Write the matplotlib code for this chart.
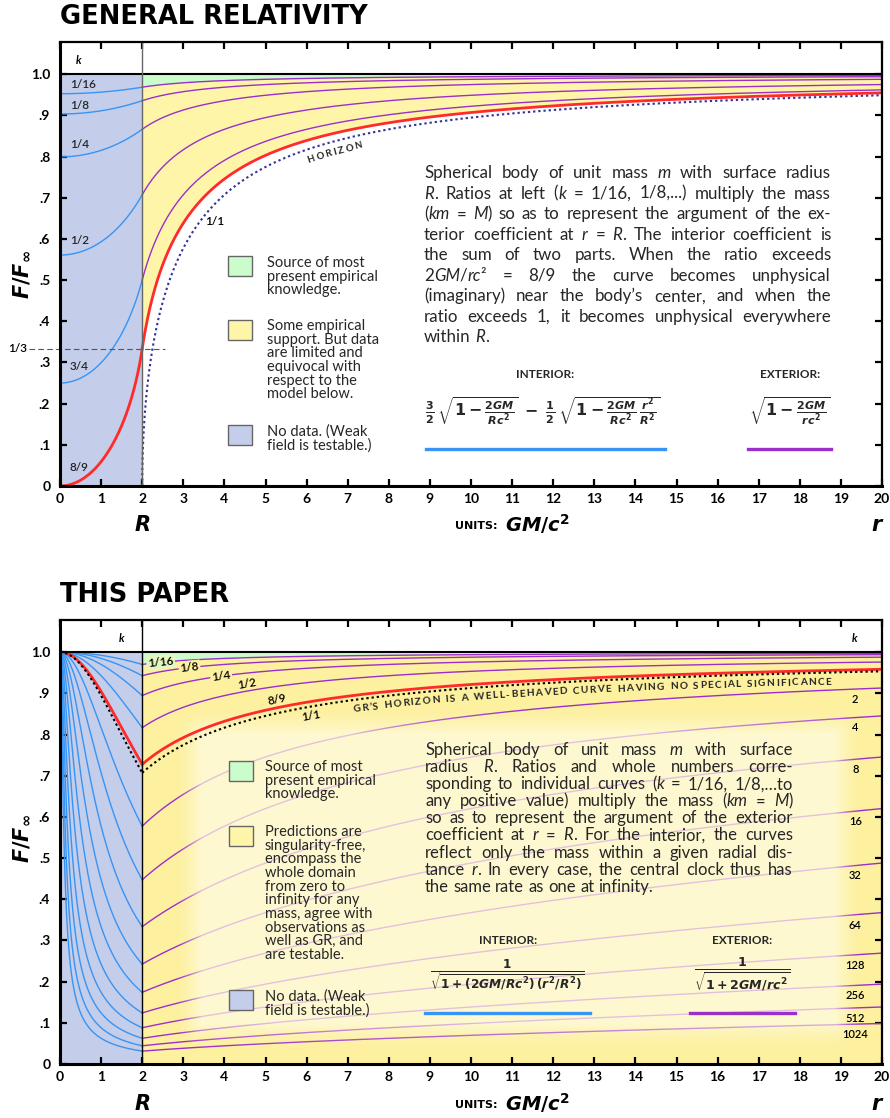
import re
import numpy as np
import matplotlib.pyplot as plt
from matplotlib.patches import Rectangle
from matplotlib.lines import Line2D
from matplotlib.transforms import IdentityTransform

plt.rcParams['font.family'] = ['Lato', 'DejaVu Sans']
plt.rcParams['mathtext.fontset'] = 'custom'
plt.rcParams['mathtext.rm'] = 'DejaVu Sans:bold'
plt.rcParams['mathtext.it'] = 'DejaVu Sans:italic:bold'
plt.rcParams['mathtext.bf'] = 'DejaVu Sans:bold'
plt.rcParams['mathtext.sf'] = 'DejaVu Sans:bold'

# === mass ratios k (M = k m); radius in units of GM/c^2 ===
R_SURF = 2.0
gr_k = [1/16, 1/8, 1/4, 1/2, 3/4, 8/9]
gr_k_labels = ['1/16', '1/8', '1/4', '1/2', '3/4', '8/9']
gr_label_y = [0.976, 0.925, 0.828, 0.597, 0.289, 0.046]
horizon_k = 1.0

new_k = [1/16, 1/8, 1/4, 1/2, 8/9, 1, 2, 4, 8, 16, 32, 64, 128, 256, 512, 1024]
new_k_labels = ['1/16', '1/8', '1/4', '1/2', '8/9', '1/1', '2', '4', '8', '16',
                '32', '64', '128', '256', '512', '1024']
# where the inline labels of the small ratios sit along their curves
inline_r = [2.45, 3.15, 3.92, 4.55, 5.28, 6.10]
inline_dy = [0, 0, 0, 5, 6, -7]

x_ticks = list(range(0, 21))
y_ticks = [0, .1, .2, .3, .4, .5, .6, .7, .8, .9, 1.0]
y_tick_labels = ['0', '.1', '.2', '.3', '.4', '.5', '.6', '.7', '.8', '.9', '1.0']

gr_text = [
    "Spherical body of unit mass {m} with surface radius",
    "{R}.  Ratios at left ({k} = 1/16, 1/8,...) multiply the mass",
    "({km} = {M}) so as to represent the argument of the ex-",
    "terior coefficient at {r} = {R}. The interior coefficient is",
    "the sum of two parts. When the ratio exceeds",
    "2{GM}/{rc}² = 8/9 the curve becomes unphysical",
    "(imaginary) near the body’s center, and when the",
    "ratio exceeds 1, it becomes unphysical everywhere",
    "within {R}.",
]
new_text = [
    "Spherical body of unit mass {m} with surface",
    "radius {R}. Ratios and whole numbers corre-",
    "sponding to individual curves ({k} = 1/16, 1/8,…to",
    "any positive value) multiply the mass ({km} = {M})",
    "so as to represent the argument of the exterior",
    "coefficient at {r} = {R}.  For the interior, the curves",
    "reflect only the mass within a given radial dis-",
    "tance {r}. In every case, the central clock thus has",
    "the same rate as one at infinity.",
]
gr_legend = ["Source of most\npresent empirical\nknowledge.",
             "Some empirical\nsupport. But data\nare limited and\nequivocal with\nrespect to the\nmodel below.",
             "No data. (Weak\nfield is testable.)"]
new_legend = ["Source of most\npresent empirical\nknowledge.",
              "Predictions are\nsingularity-free,\nencompass the\nwhole domain\nfrom zero to\n"
              "infinity for any\nmass, agree with\nobservations as\nwell as GR, and\nare testable.",
              "No data. (Weak\nfield is testable.)"]


def gr_interior(r, k):
    a = 2 * k / R_SURF
    return 1.5 * np.sqrt(1 - a) - 0.5 * np.sqrt(1 - a * r**2 / R_SURF**2)


def gr_exterior(r, k):
    return np.sqrt(1 - 2 * k / r)


def new_interior(r, k):
    return 1 / np.sqrt(1 + (2 * k / R_SURF) * (r**2 / R_SURF**2))


def new_exterior(r, k):
    return 1 / np.sqrt(1 + 2 * k / r)


BLUE_FILL = '#c4cde9'
GREEN_FILL = '#cbfccb'
YELLOW_GR = '#fff5a8'
YELLOW_NEW = '#fdf09e'
GLOW = (1.0, 0.992, 0.90)
LINE_IN = '#3794f5'
LINE_OUT = '#9b2fc9'
RED = '#ff2b2b'
INK = '#262626'

W, H = 890, 1118
fig = plt.figure(figsize=(W / 100, H / 100), dpi=100)
renderer = fig.canvas.get_renderer()


def ftext(x, y, s, **kw):
    return fig.text(x / W, 1 - y / H, s, **kw)


def style_axes(ax, vcolor):
    ax.set_xlim(0, 20)
    ax.set_ylim(0, 1.078)
    ax.set_xticks(x_ticks)
    ax.set_yticks(y_ticks)
    ax.set_yticklabels(y_tick_labels)
    ax.tick_params(direction='in', top=True, right=True, length=5, width=1.6,
                   labelsize=10, pad=5)
    ax.tick_params(axis='y', pad=7)
    for lab in ax.get_xticklabels() + ax.get_yticklabels():
        lab.set_fontweight('bold')
    for side, s in ax.spines.items():
        s.set_linewidth(2.2 if side in ('left', 'bottom') else 1.6)
        s.set_zorder(6)
    ax.axhline(1.0, color='black', lw=1.5, zorder=5)
    ax.axvline(R_SURF, color=vcolor, lw=1.0, zorder=5)


def measure(s, size, **kw):
    t = fig.text(0, 0, s, fontsize=size, transform=IdentityTransform(), **kw)
    w = t.get_window_extent(renderer).width
    t.remove()
    return w


def paragraph(lines, x0, x1, base0, dy, size):
    # justified block, italic pieces marked with {}
    space = measure('n n', size) - measure('nn', size)
    for i, line in enumerate(lines):
        words = []
        for w in line.split():
            segs = [(p.strip('{}'), p.startswith('{')) for p in re.split(r'(\{[^}]*\})', w) if p]
            widths = [measure(s, size, style='italic' if it else 'normal') for s, it in segs]
            words.append((segs, widths))
        total = sum(sum(ws) for _, ws in words)
        last = i == len(lines) - 1
        gap = space if last or len(words) < 2 else max((x1 - x0 - total) / (len(words) - 1), 0.6 * space)
        x = x0
        yb = H - (base0 + i * dy)
        for segs, widths in words:
            for (s, it), w in zip(segs, widths):
                fig.text(x, yb, s, fontsize=size, style='italic' if it else 'normal',
                         color=INK, va='baseline', transform=IdentityTransform())
                x += w
            x += gap


def curve_text(ax, r, y, text, r_start, r_end, offset, size):
    # spaced capitals following a curve, baseline offset below it
    pts = ax.transData.transform(np.column_stack([r, y]))
    arc = np.concatenate([[0], np.cumsum(np.hypot(np.diff(pts[:, 0]), np.diff(pts[:, 1])))])
    s0, s1 = np.interp(r_start, r, arc), np.interp(r_end, r, arc)
    widths = [size * 0.3 * 100 / 72 if ch == ' ' else measure(ch, size, fontweight='bold')
              for ch in text]
    track = (s1 - s0 - sum(widths)) / (len(text) - 1)
    s = s0
    for ch, w in zip(text, widths):
        sc = s + w / 2
        px, py = np.interp(sc, arc, pts[:, 0]), np.interp(sc, arc, pts[:, 1])
        i = int(np.clip(np.searchsorted(arc, sc), 1, len(arc) - 1))
        ang = np.degrees(np.arctan2(pts[i, 1] - pts[i - 1, 1], pts[i, 0] - pts[i - 1, 0]))
        nx, ny = np.sin(np.radians(ang)), -np.cos(np.radians(ang))
        if ch != ' ':
            fig.text(px + nx * offset, py + ny * offset, ch, fontsize=size, fontweight='bold',
                     rotation=ang, rotation_mode='anchor', ha='center', va='baseline',
                     color=INK, transform=IdentityTransform(), zorder=7)
        s += w + track


def slope_deg(ax, f, r, k):
    p = ax.transData.transform([[r - 0.05, f(r - 0.05, k)], [r + 0.05, f(r + 0.05, k)]])
    return np.degrees(np.arctan2(p[1, 1] - p[0, 1], p[1, 0] - p[0, 0]))


def legend_block(x_box, x_txt, tops, texts, size):
    colors = [GREEN_FILL, YELLOW_GR, BLUE_FILL]
    for (yb, yt), c, t in zip(tops, colors, texts):
        fig.add_artist(Rectangle((x_box / W, 1 - (yb + 20) / H), 24 / W, 20 / H,
                                 transform=fig.transFigure, fc=c, ec='#666666', lw=1.0))
        ftext(x_txt, yt, t, fontsize=size, va='top', linespacing=0.97, color=INK)


def units_row(y):
    ftext(142, y, r'$R$', fontsize=15, ha='center', va='center')
    ftext(498, y + 1, 'UNITS:', fontsize=8, fontweight='bold', ha='right', va='center',
          family='DejaVu Sans')
    ftext(505, y - 1, r'$GM/c^2$', fontsize=14, ha='left', va='center')
    ftext(884, y, r'$r$', fontsize=15, ha='right', va='center')


r_in = np.linspace(0, R_SURF, 600)
r_out = np.linspace(R_SURF, 20, 900)
r_hz = R_SURF + np.geomspace(1e-6, 18.0, 2000)

# ================= GENERAL RELATIVITY =================
ax_gr = fig.add_axes([60 / W, 1 - 486 / H, 822 / W, 444 / H])
style_axes(ax_gr, '#666666')
ax_gr.fill_between([0, R_SURF], 0, 1, color=BLUE_FILL, lw=0, zorder=0.5)
ax_gr.fill_between(r_out, gr_exterior(r_out, gr_k[0]), 1, color=GREEN_FILL, lw=0, zorder=0.5)
ax_gr.fill_between(r_out, gr_exterior(r_out, gr_k[-1]), gr_exterior(r_out, gr_k[0]),
                   color=YELLOW_GR, lw=0, zorder=0.5)

for k, lab, ly in zip(gr_k, gr_k_labels, gr_label_y):
    red = lab == '8/9'
    ax_gr.plot(r_in, gr_interior(r_in, k), color=RED if red else LINE_IN,
               lw=2.0 if red else 1.0, zorder=3 if red else 2)
    ax_gr.plot(r_out, gr_exterior(r_out, k), color=RED if red else LINE_OUT,
               lw=2.0 if red else 1.0, zorder=3 if red else 2)
    ax_gr.text(0.24, ly, lab, fontsize=8.5, fontweight='semibold', va='center', color=INK)

ax_gr.plot(r_hz, gr_exterior(r_hz, horizon_k), color='#33339a', lw=1.5,
           ls=(0, (1.1, 1.4)), zorder=3)
ax_gr.plot([-0.75, 2.55], [1/3, 1/3], color='#555555', lw=0.8, ls=(0, (5, 3)),
           clip_on=False, zorder=5)
ax_gr.text(-0.8, 1/3, '1/3', ha='right', va='center', fontsize=8.5, fontweight='semibold')
ax_gr.text(0.45, 1.032, 'k', fontsize=8, style='italic', fontweight='bold', ha='center', va='center')
ax_gr.text(3.77, 0.641, '1/1', fontsize=8.5, fontweight='semibold', ha='center', va='center')
curve_text(ax_gr, r_hz, gr_exterior(r_hz, horizon_k), 'HORIZON', 5.95, 7.3, 13, 7)

legend_block(228, 267, [(256, 256), (320, 319), (425, 424)], gr_legend, 10.5)
paragraph(gr_text, 424, 831, 178.3, 20.5, 12.2)
ftext(545, 374, 'INTERIOR:', fontsize=8.5, fontweight='bold', ha='center', va='center',
      color=INK)
ftext(790, 374, 'EXTERIOR:', fontsize=8.5, fontweight='bold', ha='center', va='center',
      color=INK)
ftext(543, 411, r'$\frac{3}{2}\,\sqrt{1-\frac{2GM}{Rc^2}}\;-\;\frac{1}{2}\,'
                r'\sqrt{1-\frac{2GM}{Rc^2}\,\frac{r^2}{R^2}}$',
      fontsize=11.4, ha='center', va='center', color=INK)
ftext(790, 411, r'$\sqrt{1-\frac{2GM}{rc^2}}$', fontsize=11.4, ha='center', va='center',
      color=INK)
fig.add_artist(Line2D([426 / W, 665 / W], [1 - 449 / H] * 2, transform=fig.transFigure,
                      color=LINE_IN, lw=2.4))
fig.add_artist(Line2D([748 / W, 831 / W], [1 - 449 / H] * 2, transform=fig.transFigure,
                      color=LINE_OUT, lw=2.4))
ftext(22, 274, r'$F/F_{\infty}$', fontsize=15, rotation=90, ha='center', va='center')
units_row(525)
ftext(60, 17, 'GENERAL RELATIVITY', fontsize=18.5, fontweight='heavy', family='DejaVu Sans',
      va='center')

# ================= THIS PAPER =================
ax_new = fig.add_axes([60 / W, 1 - 1064 / H, 822 / W, 444 / H])
ax_new.fill_between([0, R_SURF], 0, 1, color=BLUE_FILL, lw=0, zorder=0.5)
ax_new.fill_between(r_out, 0, new_exterior(r_out, new_k[0]), color=YELLOW_NEW, lw=0, zorder=0.5)
ax_new.fill_between(r_out, new_exterior(r_out, new_k[0]), 1, color=GREEN_FILL, lw=0, zorder=0.5)

for k, lab in zip(new_k, new_k_labels):
    if lab == '8/9':
        kw_in = kw_out = dict(color=RED, lw=2.0, zorder=3)
    elif lab == '1/1':
        kw_in = kw_out = dict(color='black', lw=1.5, ls=(0, (1.1, 1.4)), zorder=3)
    else:
        kw_in = dict(color=LINE_IN, lw=1.0, zorder=2)
        kw_out = dict(color=LINE_OUT, lw=1.0, zorder=2)
    ax_new.plot(r_in, new_interior(r_in, k), **kw_in)
    ax_new.plot(r_out, new_exterior(r_out, k), **kw_out)

# pale glow behind the notes, laid over the thin exterior curves
gx = np.linspace(R_SURF, 20, 740)
gy = np.linspace(0, 1, 412)
GX, GY = np.meshgrid(gx, gy)
ddx = np.maximum(np.maximum(3.45 - GX, GX - 18.85), 0) * 41.1
ddy = np.maximum(np.maximum(0.10 - GY, GY - 0.80), 0) * 412
glow = np.zeros((len(gy), len(gx), 4))
glow[..., :3] = GLOW
glow[..., 3] = 0.72 * np.clip(1 - np.hypot(ddx, ddy) / 28, 0, 1) ** 1.5
ax_new.imshow(glow, extent=(R_SURF, 20, 0, 1), origin='lower', aspect='auto',
              interpolation='bilinear', zorder=2.3)
style_axes(ax_new, 'black')

for i, (lab, r0, dy) in enumerate(zip(new_k_labels[:6], inline_r, inline_dy)):
    k = new_k[i]
    box = dict(boxstyle='square,pad=0.12', fc=YELLOW_NEW if i else '#e4f7c0', ec='none') if i < 3 else None
    ax_new.annotate(lab, (r0, new_exterior(r0, k)), xytext=(0, dy), textcoords='offset points',
                    ha='center', va='center', fontsize=8.5, fontweight='semibold',
                    rotation=slope_deg(ax_new, new_exterior, r0, k), bbox=box, zorder=4)
for k, lab in zip(new_k[6:], new_k_labels[6:]):
    ax_new.annotate(lab, (19.35, new_exterior(19.35, k)), xytext=(0, -7.5),
                    textcoords='offset points', ha='center', va='center', fontsize=8,
                    fontweight='semibold', zorder=4)
ax_new.text(1.51, 1.032, 'k', fontsize=8, style='italic', fontweight='bold', ha='center', va='center')
ax_new.text(19.34, 1.032, 'k', fontsize=8, style='italic', fontweight='bold', ha='center', va='center')
curve_text(ax_new, r_out, new_exterior(r_out, horizon_k),
           "GR’S HORIZON IS A WELL-BEHAVED CURVE HAVING NO SPECIAL SIGNIFICANCE",
           7.1, 18.76, 12, 7.3)

legend_block(229, 265, [(761, 760), (826, 825), (990, 989)], new_legend, 10.5)
paragraph(new_text, 425, 793, 755, 17.1, 12)
ftext(508, 940, 'INTERIOR:', fontsize=8.5, fontweight='bold', ha='center', va='center',
      color=INK)
ftext(742, 941, 'EXTERIOR:', fontsize=8.5, fontweight='bold', ha='center', va='center',
      color=INK)
ftext(507, 975, r'$\frac{1}{\sqrt{1+(2GM/Rc^2)\,(r^2/R^2)}}$', fontsize=12.5, ha='center',
      va='center', color=INK)
ftext(742, 975, r'$\frac{1}{\sqrt{1+2GM/rc^2}}$', fontsize=13, ha='center', va='center',
      color=INK)
fig.add_artist(Line2D([425 / W, 590 / W], [1 - 1013 / H] * 2, transform=fig.transFigure,
                      color=LINE_IN, lw=2.4))
fig.add_artist(Line2D([690 / W, 795 / W], [1 - 1013 / H] * 2, transform=fig.transFigure,
                      color=LINE_OUT, lw=2.4))
ftext(22, 838, r'$F/F_{\infty}$', fontsize=15, rotation=90, ha='center', va='center')
units_row(1104)
ftext(60, 595, 'THIS PAPER', fontsize=18.5, fontweight='heavy', family='DejaVu Sans', va='center')

fig.savefig('out.png', dpi=100)
